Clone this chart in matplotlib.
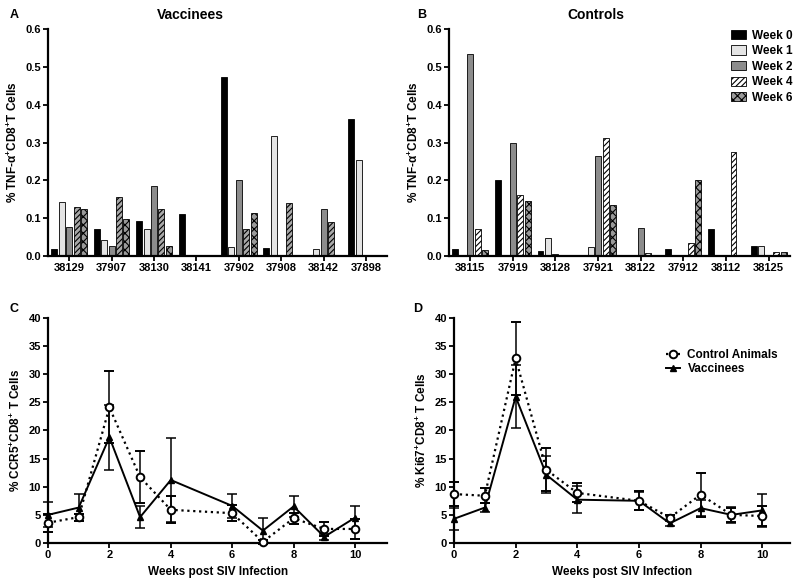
import matplotlib.pyplot as plt
from matplotlib.lines import Line2D
import numpy as np

plt.rcParams['font.family'] = ['Liberation Sans', 'DejaVu Sans']
plt.rcParams['font.weight'] = 'bold'
plt.rcParams['axes.labelweight'] = 'bold'
plt.rcParams['mathtext.fontset'] = 'custom'
plt.rcParams['mathtext.rm'] = 'Liberation Sans:bold'
plt.rcParams['mathtext.bf'] = 'Liberation Sans:bold'
plt.rcParams['mathtext.default'] = 'bf'
plt.rcParams['hatch.linewidth'] = 0.8

weeks_bar = ['Week 0', 'Week 1', 'Week 2', 'Week 4', 'Week 6']

# Panel A - vaccinees
vacc_animals = ['38129', '37907', '38130', '38141', '37902', '37908', '38142', '37898']
vacc_w0 = [0.019, 0.072, 0.092, 0.112, 0.473, 0.022, 0.0, 0.361]
vacc_w1 = [0.143, 0.042, 0.072, 0.0, 0.024, 0.318, 0.018, 0.254]
vacc_w2 = [0.076, 0.026, 0.184, 0.0, 0.201, 0.0, 0.123, 0.0]
vacc_w4 = [0.130, 0.155, 0.123, 0.0, 0.070, 0.140, 0.089, 0.0]
vacc_w6 = [0.124, 0.099, 0.027, 0.0, 0.114, 0.0, 0.0, 0.0]

# Panel B - controls
ctrl_animals = ['38115', '37919', '38128', '37921', '38122', '37912', '38112', '38125']
ctrl_w0 = [0.019, 0.201, 0.013, 0.0, 0.0, 0.019, 0.070, 0.026]
ctrl_w1 = [0.0, 0.0, 0.047, 0.023, 0.0, 0.0, 0.0, 0.026]
ctrl_w2 = [0.534, 0.300, 0.004, 0.265, 0.073, 0.0, 0.0, 0.0]
ctrl_w4 = [0.072, 0.162, 0.0, 0.313, 0.007, 0.034, 0.274, 0.011]
ctrl_w6 = [0.015, 0.145, 0.0, 0.136, 0.0, 0.200, 0.0, 0.011]

# Panels C/D - time course
weeks = [0, 1, 2, 3, 4, 6, 7, 8, 9, 10]
ccr5_ctrl = [3.6, 4.6, 24.1, 11.7, 5.9, 5.3, 0.2, 4.4, 2.5, 2.5]
ccr5_ctrl_err = [1.6, 0.6, 6.4, 4.6, 2.4, 1.4, 0.3, 1.0, 1.2, 1.8]
ccr5_vacc = [5.0, 6.3, 18.8, 4.6, 11.2, 6.6, 2.2, 6.5, 1.1, 4.5]
ccr5_vacc_err = [2.2, 2.4, 5.8, 1.9, 7.5, 2.1, 2.3, 1.8, 0.5, 2.0]

ki67_ctrl = [8.7, 8.4, 32.8, 13.0, 8.9, 7.5, 4.5, 8.6, 5.0, 4.8]
ki67_ctrl_err = [2.2, 1.3, 6.5, 3.8, 1.7, 1.7, 0.4, 3.9, 1.3, 1.8]
ki67_vacc = [4.3, 6.3, 26.0, 12.1, 7.7, 7.5, 3.5, 6.2, 5.0, 5.8]
ki67_vacc_err = [2.0, 0.8, 5.6, 3.3, 2.4, 1.6, 0.5, 1.4, 1.4, 2.9]

fig = plt.figure(figsize=(8, 5.83), dpi=100)


def style_axes(ax):
    for s in ['top', 'right']:
        ax.spines[s].set_visible(False)
    for s in ['left', 'bottom']:
        ax.spines[s].set_linewidth(1.6)
    ax.tick_params(direction='out', width=1.3, length=3.5, labelsize=8, pad=1.5)


def bar_panel(ax, animals, series, w4_face):
    styles = [
        dict(facecolor='black', hatch=None),
        dict(facecolor='#e4e4e4', hatch=None),
        dict(facecolor='#8c8c8c', hatch=None),
        dict(facecolor=w4_face, hatch='//////'),
        dict(facecolor='#9a9a9a', hatch='xxxx'),
    ]
    x = np.arange(len(animals))
    w = 0.14
    offs = (np.arange(5) - 2) * 0.175
    for i, vals in enumerate(series):
        ax.bar(x + offs[i], vals, w, edgecolor='black', linewidth=0.6,
               label=weeks_bar[i], **styles[i])
    ax.set_xlim(-0.5, 7.5)
    ax.set_ylim(0, 0.6)
    ax.set_yticks(np.arange(0, 0.61, 0.1))
    ax.set_yticklabels([f'{v:.1f}' for v in np.arange(0, 0.61, 0.1)])
    ax.set_xticks(x)
    ax.set_xticklabels(animals)
    ax.set_ylabel('% TNF-α$^{+}$CD8$^{+}$T Cells', fontsize=8.5, labelpad=4)
    style_axes(ax)


axA = fig.add_axes([0.06, 0.561, 0.424, 0.389])
bar_panel(axA, vacc_animals, [vacc_w0, vacc_w1, vacc_w2, vacc_w4, vacc_w6], '#a8a8a8')
axA.set_title('Vaccinees', fontsize=10, fontweight='bold', pad=7, x=0.42)

axB = fig.add_axes([0.561, 0.561, 0.4265, 0.389])
bar_panel(axB, ctrl_animals, [ctrl_w0, ctrl_w1, ctrl_w2, ctrl_w4, ctrl_w6], 'white')
axB.set_title('Controls', fontsize=10, fontweight='bold', pad=7, x=0.43)
axB.legend(loc='upper right', bbox_to_anchor=(1.04, 1.045), frameon=False, fontsize=8.5,
           handlelength=1.3, handleheight=0.8, handletextpad=0.5, labelspacing=0.3)


def line_panel(ax, ylabel, ctrl, ctrl_err, vacc, vacc_err, xmax):
    ax.errorbar(weeks, vacc, yerr=vacc_err, color='black', linestyle='-', linewidth=1.4,
                marker='^', markersize=4.5, capsize=3.5, elinewidth=1.1, capthick=1.1,
                zorder=3, clip_on=False)
    ax.errorbar(weeks, ctrl, yerr=ctrl_err, color='black', linestyle=':', linewidth=1.6,
                marker='o', markersize=5.5, markerfacecolor='white', markeredgewidth=1.4,
                capsize=3.5, elinewidth=1.1, capthick=1.1, zorder=4, clip_on=False)
    ax.set_xlim(0, xmax)
    ax.set_ylim(0, 40)
    ax.set_xticks([0, 2, 4, 6, 8, 10])
    ax.set_yticks(np.arange(0, 41, 5))
    ax.set_ylabel(ylabel, fontsize=8.5, labelpad=4)
    ax.set_xlabel('Weeks post SIV Infection', fontsize=8.5, labelpad=4)
    style_axes(ax)


axC = fig.add_axes([0.06, 0.0686, 0.424, 0.386])
line_panel(axC, '% CCR5$^{+}$CD8$^{+}$ T Cells', ccr5_ctrl, ccr5_ctrl_err,
           ccr5_vacc, ccr5_vacc_err, 11.05)

axD = fig.add_axes([0.5675, 0.0686, 0.42, 0.386])
line_panel(axD, '% Ki67$^{+}$CD8$^{+}$ T Cells', ki67_ctrl, ki67_ctrl_err,
           ki67_vacc, ki67_vacc_err, 10.9)
handles = [
    Line2D([], [], color='black', linestyle=':', linewidth=1.6, marker='o', markersize=5.5,
           markerfacecolor='white', markeredgewidth=1.4),
    Line2D([], [], color='black', linestyle='-', linewidth=1.4, marker='^', markersize=4.5),
]
axD.legend(handles, ['Control Animals', 'Vaccinees'], loc='upper left',
           bbox_to_anchor=(0.6, 0.91), frameon=False, fontsize=8.5,
           handlelength=1.2, handletextpad=0.6, labelspacing=0.2)

for txt, x, y in [('A', 0.012, 0.975), ('B', 0.522, 0.975), ('C', 0.012, 0.47), ('D', 0.517, 0.47)]:
    fig.text(x, y, txt, fontsize=9, fontweight='bold', va='center')

fig.savefig('out.png', dpi=100)
